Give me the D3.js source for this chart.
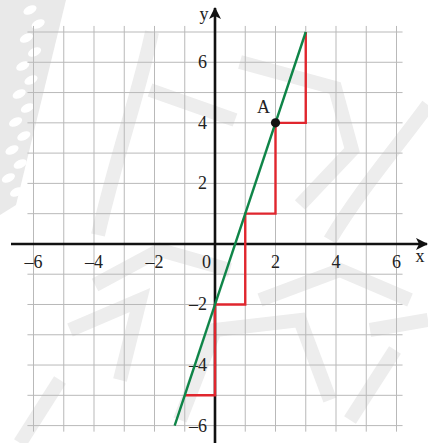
<!DOCTYPE html>
<html>
<head>
	<meta charset="utf-8">
	<title>Line and staircase</title>
	<script src="https://cdn.jsdelivr.net/npm/d3@7"></script>
	<style>
		body { margin: 0; background: #fff; }
		text { font-family: "Liberation Serif", "Times New Roman", serif; fill: #222; }
	</style>
</head>
<body>
<div id="chart"></div>
<script>
	// tick labels on both axes
	var xTicks = [-6, -4, -2, 2, 4, 6];
	var yTicks = [-6, -4, -2, 2, 4, 6];
	// grid lines every unit
	var xGrid = [-6, -5, -4, -3, -2, -1, 1, 2, 3, 4, 5, 6];
	var yGrid = [-6, -5, -4, -3, -2, -1, 1, 2, 3, 4, 5, 6, 7];
	// green line y = 3x - 2, drawn between its two end points
	var lineX = [-4 / 3, 3];
	var lineY = [-6, 7];
	// red staircase corners
	var stepX = [-1, 0, 0, 1, 1, 2, 2, 3, 3];
	var stepY = [-5, -5, -2, -2, 1, 1, 4, 4, 7];
	// marked point A
	var pointA = { label: "A", x: 2, y: 4 };

	var width = 428,
		height = 443;

	var svg = d3.select("#chart")
		.append("svg")
		.attr("width", width)
		.attr("height", height);

	var x = d3.scaleLinear().domain([-6, 6]).range([33.5, 396.5]);
	var y = d3.scaleLinear().domain([-6, 7]).range([425.6, 32]);

	var defs = svg.append("defs");
	defs.append("marker")
		.attr("id", "arrow")
		.attr("viewBox", "0 0 12 12")
		.attr("refX", 11)
		.attr("refY", 6)
		.attr("markerWidth", 12)
		.attr("markerHeight", 12)
		.attr("markerUnits", "userSpaceOnUse")
		.attr("orient", "auto")
		.append("path")
		.attr("d", "M0,0 L12,6 L0,12 L3,6 Z")
		.attr("fill", "#111");

	//############### faint watermark behind the grid ##################
	var wm = svg.append("g").attr("fill", "none").attr("stroke", "#ededed").attr("stroke-width", 14);
	svg.insert("path", "g")
		.attr("d", "M0,0 L66,0 L16,205 L0,215 Z")
		.attr("fill", "#e9e9e9");
	var dots = svg.append("g").attr("fill", "#fff");
	d3.range(14).forEach(function(i) {
		dots.append("ellipse")
			.attr("cx", 30 - i * 1.8 + (i % 2) * 10)
			.attr("cy", 10 + i * 14)
			.attr("rx", 7).attr("ry", 4)
			.attr("transform", "rotate(-25," + (30 - i * 1.8 + (i % 2) * 10) + "," + (10 + i * 14) + ")");
	});
	var strokes = [
		"M152,32 C140,90 115,160 98,235",
		"M240,62 L335,88 L352,150 L300,205",
		"M428,105 C395,150 360,190 330,240",
		"M150,90 L235,120",
		"M95,285 L160,250 L230,270",
		"M70,330 L140,300 L120,380",
		"M180,420 L215,330 L300,320 L330,400",
		"M260,300 L340,270 L410,300",
		"M370,330 L428,320",
		"M20,443 L60,380",
		"M350,420 L395,350"
	];
	strokes.forEach(function(d) { wm.append("path").attr("d", d); });

	//############### grid ##################
	var grid = svg.append("g").attr("stroke", "#b9b9b9").attr("stroke-width", 1);
	grid.selectAll(".v").data(xGrid).enter().append("line")
		.attr("x1", function(d) { return x(d); })
		.attr("x2", function(d) { return x(d); })
		.attr("y1", y(7.2))
		.attr("y2", y(-6.2));
	grid.selectAll(".h").data(yGrid).enter().append("line")
		.attr("x1", x(-6.2))
		.attr("x2", x(6.2))
		.attr("y1", function(d) { return y(d); })
		.attr("y2", function(d) { return y(d); });

	//############### axes ##################
	svg.append("line")
		.attr("x1", 11).attr("x2", 427)
		.attr("y1", y(0)).attr("y2", y(0))
		.attr("stroke", "#111").attr("stroke-width", 2.6)
		.attr("marker-end", "url(#arrow)");
	svg.append("line")
		.attr("x1", x(0)).attr("x2", x(0))
		.attr("y1", height).attr("y2", 8)
		.attr("stroke", "#111").attr("stroke-width", 2.6)
		.attr("marker-end", "url(#arrow)");

	svg.selectAll(".xt").data(xTicks).enter().append("text")
		.attr("x", function(d) { return x(d); })
		.attr("y", y(0) + 24)
		.attr("text-anchor", "middle")
		.attr("font-size", 18)
		.text(function(d) { return d < 0 ? "\u2013" + (-d) : d; });
	svg.append("text")
		.attr("x", x(0) - 4).attr("y", y(0) + 24)
		.attr("text-anchor", "end")
		.attr("font-size", 18)
		.text("0");
	svg.selectAll(".yt").data(yTicks).enter().append("text")
		.attr("x", x(0) - 8)
		.attr("y", function(d) { return y(d) + 6; })
		.attr("text-anchor", "end")
		.attr("font-size", 18)
		.text(function(d) { return d < 0 ? "\u2013" + (-d) : d; });
	svg.append("text")
		.attr("x", 420).attr("y", y(0) + 18)
		.attr("text-anchor", "middle")
		.attr("font-size", 18)
		.text("x");
	svg.append("text")
		.attr("x", x(0) - 11).attr("y", 20)
		.attr("text-anchor", "middle")
		.attr("font-size", 18)
		.text("y");

	//############### staircase and line ##################
	var steps = d3.range(stepX.length).map(function(i) { return [stepX[i], stepY[i]]; });
	svg.append("path")
		.datum(steps)
		.attr("fill", "none")
		.attr("stroke", "#e0262e")
		.attr("stroke-width", 2.4)
		.attr("d", d3.line().x(function(d) { return x(d[0]); }).y(function(d) { return y(d[1]); }));

	var linePts = d3.range(lineX.length).map(function(i) { return [lineX[i], lineY[i]]; });
	svg.append("path")
		.datum(linePts)
		.attr("fill", "none")
		.attr("stroke", "#0f8548")
		.attr("stroke-width", 2.4)
		.attr("d", d3.line().x(function(d) { return x(d[0]); }).y(function(d) { return y(d[1]); }));

	svg.append("circle")
		.attr("cx", x(pointA.x))
		.attr("cy", y(pointA.y))
		.attr("r", 4.6)
		.attr("fill", "#111");
	svg.append("text")
		.attr("x", x(pointA.x) - 12)
		.attr("y", y(pointA.y) - 10)
		.attr("text-anchor", "middle")
		.attr("font-size", 18)
		.text(pointA.label);
</script>
</body>
</html>
